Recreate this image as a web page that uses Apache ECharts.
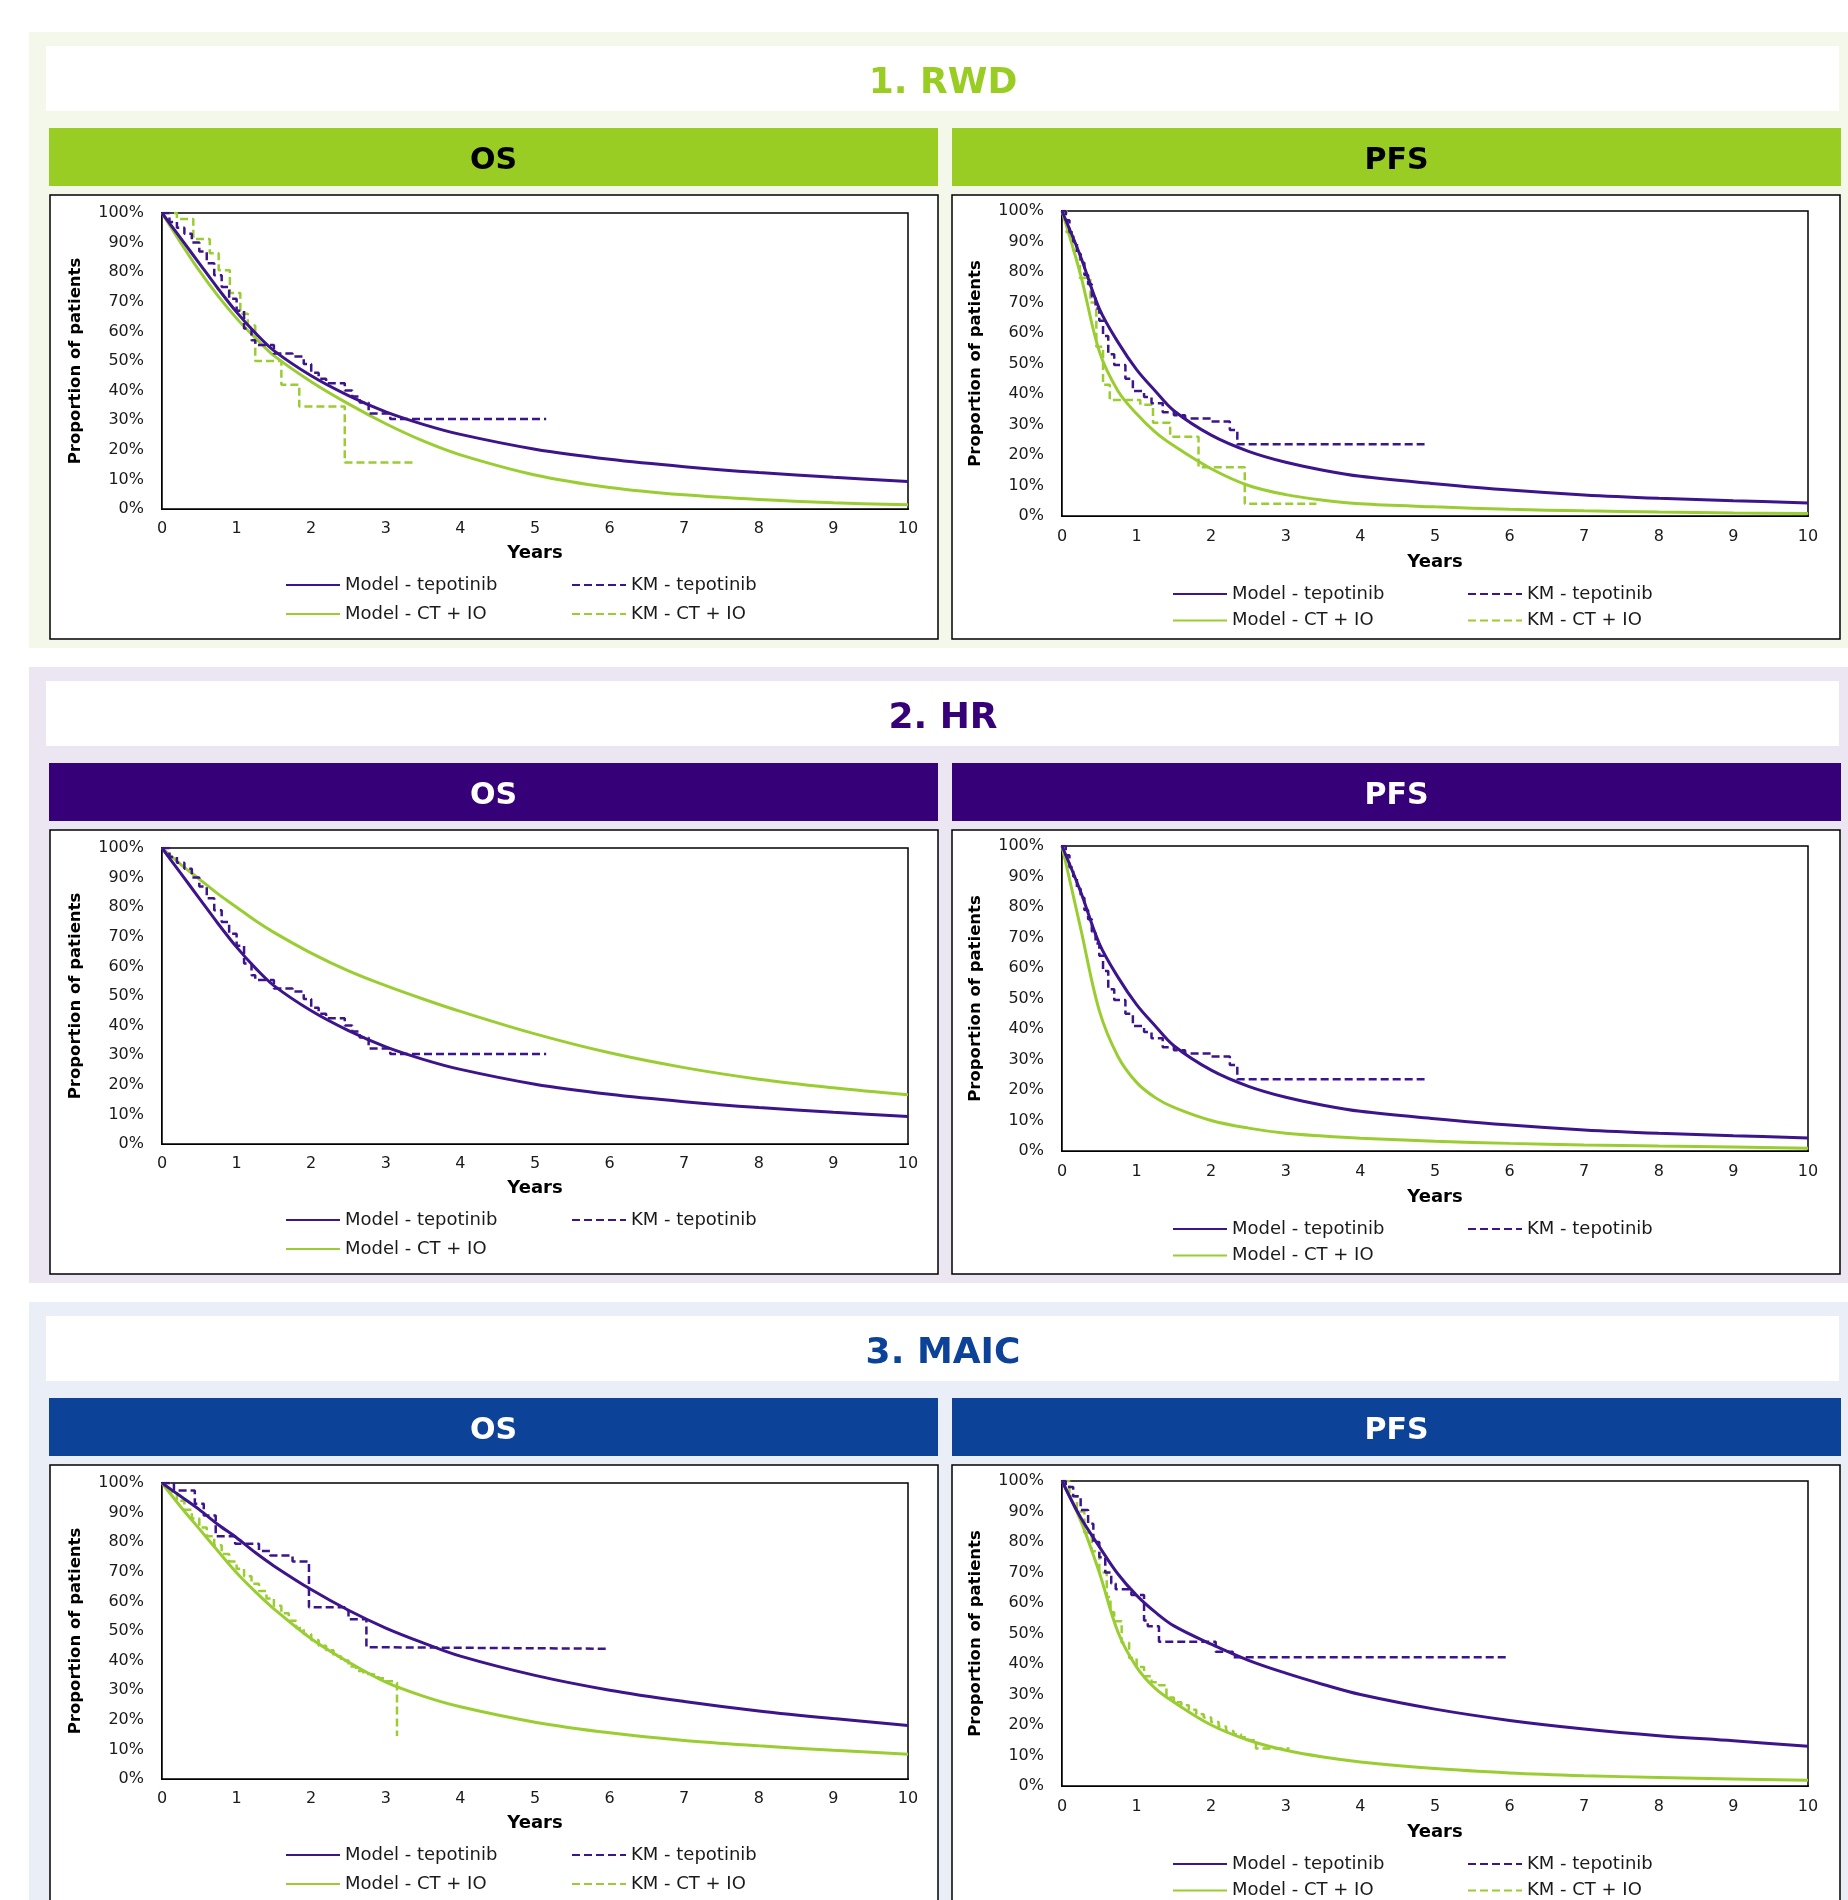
<!DOCTYPE html>
<html>
<head>
<meta charset="utf-8">
<script src="https://cdn.jsdelivr.net/npm/echarts@6/dist/echarts.min.js"></script>
<style>
html,body{margin:0;padding:0;background:#ffffff;}
#c{width:1848px;height:1900px;}
</style>
</head>
<body>
<div id="c"></div>
<script>
const FONT = '"DejaVu Sans", Verdana, sans-serif';
const PURPLE = '#3C148C';
const GREEN = '#9ACD32';

// ---------- tick labels / names ----------
const xTicks = [0,1,2,3,4,5,6,7,8,9,10];
const yTicks = [0,10,20,30,40,50,60,70,80,90,100];
const seriesNames = ['Model - tepotinib','KM - tepotinib','Model - CT + IO','KM - CT + IO'];

// ---------- model curves (years, % of patients) ----------
const modelT = [0,0.25,0.5,0.75,1,1.25,1.5,2,2.5,3,3.5,4,5,6,7,8,9,10];

const osModelTep      = [100,91.5,83,74.5,66.5,59.5,53.5,45,38.3,32.8,28.6,25.2,20.2,16.8,14.3,12.3,10.7,9.3];
const rwdOsModelCT    = [100,90,80.5,72,64.4,57.8,51.8,43,35.5,28.8,23,18.3,11.5,7.3,4.8,3.2,2.1,1.4];
const hrOsModelCT     = [100,94.5,89.5,84.5,80,75.5,71.5,64.5,58.5,53.5,49,44.8,37.2,30.8,25.8,21.9,19,16.6];
const maicOsModelTep  = [100,95.5,91,86,81.5,76.5,72,64,57,51,46,41.5,35,30,26.2,23,20.4,18.1];
const maicOsModelCT   = [100,92,84.5,77,69.7,63.3,57.5,47.4,39.5,32.7,28,24.4,19.2,15.6,13,11.2,9.7,8.4];

const pfsModelTep     = [100,85,68,57,48,41,34.5,26.5,21.2,17.6,15,13,10.6,8.5,6.9,5.8,5,4.3];
const rwdPfsModelCT   = [100,79,54,41,33.5,27.5,23,15.5,10,7,5.2,4,3,2.2,1.7,1.3,1.0,0.8];
const hrPfsModelCT    = [100,73,46,31,22.5,17.5,14.3,10,7.5,5.8,4.9,4.2,3.2,2.5,2,1.6,1.3,0.9];
const maicPfsModelTep = [100,88,78.5,69.5,62.5,57,52.5,46.5,41.2,37,33.3,30,25.2,21.5,18.7,16.5,14.8,13];
const maicPfsModelCT  = [100,87,70,50.5,39,32,27.5,20,15,11.7,9.5,7.9,5.7,4.3,3.4,2.8,2.3,1.9];

// ---------- Kaplan-Meier step data ----------
const kmOsTepT = [0,0.1,0.2,0.3,0.4,0.5,0.6,0.7,0.8,0.9,1.0,1.1,1.2,1.25,1.5,1.75,1.9,2.0,2.1,2.2,2.45,2.55,2.65,2.77,3.06,5.15];
const kmOsTepS = [100,97,95,93,90,87,83,79,75,71,67,61,57,55.4,52.5,51.5,49,46,44,42.5,40,38,36,32.3,30.4,30.4];

const rwdKmOsCtT = [0,0.2,0.42,0.64,0.76,0.91,1.05,1.15,1.25,1.6,1.84,2.45,3.37];
const rwdKmOsCtS = [100,98,91.2,86.4,80.7,73,66,62,50,42,34.6,15.7,15.7];

const kmPfsTepT = [0,0.05,0.1,0.15,0.2,0.25,0.3,0.35,0.4,0.45,0.5,0.55,0.62,0.7,0.85,0.95,1.1,1.2,1.35,1.5,1.65,2.0,2.25,2.35,4.86];
const kmPfsTepS = [100,97,93,90,86,83,79,76,72,68,64,59,53,49.5,45,41,39,37,34,33,32,31,28.2,23.5,23.5];

const rwdKmPfsCtT = [0,0.06,0.15,0.24,0.38,0.46,0.55,0.64,1.05,1.22,1.45,1.83,2.45,3.41];
const rwdKmPfsCtS = [100,93,87,78,70,55.5,43,38,36.5,30.6,26,16,4,4];

const maicKmOsTepT = [0,0.16,0.44,0.56,0.72,0.98,1.3,1.45,1.75,1.97,2.45,2.5,2.74,3.0,6.0];
const maicKmOsTepS = [100,97.5,93,89,82,79.5,77,75.5,73.5,58,57,54,44.5,44,44];

const maicKmOsCtT = [0,0.1,0.2,0.3,0.4,0.5,0.6,0.7,0.8,0.9,1.0,1.1,1.2,1.3,1.4,1.5,1.6,1.7,1.8,1.9,2.0,2.1,2.2,2.3,2.4,2.5,2.6,2.7,2.8,2.9,3.0,3.12,3.15];
const maicKmOsCtS = [100,97,94,91,88,85,82,79,76,73.5,71,68.5,66,63.5,61,58.5,56,53.5,51,49,47,45,43.5,41.5,40,38,36.5,35.5,35,34,33,32.5,14.5];

const maicKmPfsTepT = [0,0.05,0.15,0.25,0.35,0.42,0.5,0.58,0.66,0.72,0.93,1.1,1.15,1.3,2.06,2.29,5.97];
const maicKmPfsTepS = [100,98,95,90.5,86,80,75,70,66.4,64.5,62.6,54.3,52.4,47.3,44,42.2,42.2];

const maicKmPfsCtT = [0,0.1,0.2,0.3,0.4,0.5,0.6,0.65,0.7,0.8,0.9,1.0,1.1,1.2,1.3,1.4,1.5,1.6,1.7,1.8,1.9,2.0,2.1,2.2,2.3,2.4,2.5,2.6,3.05];
const maicKmPfsCtS = [100,95,90,83,77,70,62,57,54,47,42,39,36,34,33,29,27.5,26.5,25,23.5,22.5,21,19.5,18,17,16,15,12.3,12.3];

// ---------- panels ----------
const panels = [
  { title:'1. RWD', accent:'#9ACD23', headText:'#000000', bg:'#F4F8EA', top:32,
    os:  { modelTep:osModelTep, modelCT:rwdOsModelCT, kmTep:[kmOsTepT,kmOsTepS], kmCT:[rwdKmOsCtT,rwdKmOsCtS] },
    pfs: { modelTep:pfsModelTep, modelCT:rwdPfsModelCT, kmTep:[kmPfsTepT,kmPfsTepS], kmCT:[rwdKmPfsCtT,rwdKmPfsCtS] } },
  { title:'2. HR', accent:'#360079', headText:'#ffffff', bg:'#EBE6F2', top:667,
    os:  { modelTep:osModelTep, modelCT:hrOsModelCT, kmTep:[kmOsTepT,kmOsTepS], kmCT:null },
    pfs: { modelTep:pfsModelTep, modelCT:hrPfsModelCT, kmTep:[kmPfsTepT,kmPfsTepS], kmCT:null } },
  { title:'3. MAIC', accent:'#0D4299', headText:'#ffffff', bg:'#EAEEF7', top:1302,
    os:  { modelTep:maicOsModelTep, modelCT:maicOsModelCT, kmTep:[maicKmOsTepT,maicKmOsTepS], kmCT:[maicKmOsCtT,maicKmOsCtS] },
    pfs: { modelTep:maicPfsModelTep, modelCT:maicPfsModelCT, kmTep:[maicKmPfsTepT,maicKmPfsTepS], kmCT:[maicKmPfsCtT,maicKmPfsCtS] } }
];

function pairs(T, S){ return T.map((t,i)=>[t,S[i]]); }

const grids=[], xAxes=[], yAxes=[], series=[], legends=[], elements=[];

const layout = {
  os:  { boxX:50,  headX:49,  gridLeft:162,  gridTop:181, gridH:296, nameGapX:35, labelMarginX:12, legL:285,  legR:571,  legTop:544, legGap:11, headLabel:'OS' },
  pfs: { boxX:952, headX:952, gridLeft:1062, gridTop:179, gridH:305, nameGapX:37, labelMarginX:13, legL:1172, legR:1467, legTop:553, legGap:8.5, headLabel:'PFS' }
};

panels.forEach((p) => {
  const pt = p.top;
  elements.push({ type:'rect', z:-10, shape:{x:29,y:pt,width:1819,height:616}, style:{fill:p.bg} });
  elements.push({ type:'rect', z:-9, shape:{x:46,y:pt+14,width:1793,height:65}, style:{fill:'#ffffff'} });
  elements.push({ type:'text', z:-8, style:{ text:p.title, x:943, y:pt+52, textAlign:'center', textVerticalAlign:'middle', font:'bold 36px ' + FONT, fill:p.accent } });

  ['os','pfs'].forEach((k) => {
    const L = layout[k];
    const d = p[k];
    elements.push({ type:'rect', z:-9, shape:{x:L.headX,y:pt+96,width:889,height:58}, style:{fill:p.accent} });
    elements.push({ type:'text', z:-8, style:{ text:L.headLabel, x:L.headX+444.5, y:pt+129, textAlign:'center', textVerticalAlign:'middle', font:'bold 30px ' + FONT, fill:p.headText } });
    elements.push({ type:'rect', z:-9, shape:{x:L.boxX,y:pt+163,width:888,height:444}, style:{fill:'#ffffff', stroke:'#000000', lineWidth:1.5} });

    const g = grids.length;
    grids.push({ left:L.gridLeft, top:pt+L.gridTop, width:746, height:L.gridH, show:true, borderColor:'#000000', borderWidth:1.5, backgroundColor:'#ffffff', z:1 });
    xAxes.push({
      gridIndex:g, type:'value', min:xTicks[0], max:xTicks[xTicks.length-1], interval:1,
      name:'Years', nameLocation:'middle', nameGap:L.nameGapX,
      nameTextStyle:{ fontFamily:FONT, fontWeight:'bold', fontSize:18, color:'#000000' },
      axisLine:{ show:true, onZero:false, lineStyle:{ color:'#000000', width:2 } },
      axisTick:{ show:false }, splitLine:{ show:false },
      axisLabel:{ fontFamily:FONT, fontSize:16, color:'#1a1a1a', margin:L.labelMarginX }
    });
    yAxes.push({
      gridIndex:g, type:'value', min:yTicks[0], max:yTicks[yTicks.length-1], interval:10,
      name:'Proportion of patients', nameLocation:'middle', nameGap:78, nameRotate:90,
      nameTextStyle:{ fontFamily:FONT, fontWeight:'bold', fontSize:16.5, color:'#000000' },
      axisLine:{ show:true, onZero:false, lineStyle:{ color:'#000000', width:2 } },
      axisTick:{ show:false }, splitLine:{ show:false },
      axisLabel:{ fontFamily:FONT, fontSize:16, color:'#1a1a1a', margin:18, formatter:'{value}%' }
    });

    const base = { type:'line', xAxisIndex:g, yAxisIndex:g, symbol:'none', showSymbol:false, silent:true, animation:false };
    series.push(Object.assign({}, base, { name:seriesNames[2], data:pairs(modelT, d.modelCT), smooth:0.35, z:3,
      lineStyle:{ color:GREEN, width:3 }, itemStyle:{ color:GREEN } }));
    if (d.kmCT) {
      series.push(Object.assign({}, base, { name:seriesNames[3], data:pairs(d.kmCT[0], d.kmCT[1]), step:'end', z:4,
        lineStyle:{ color:GREEN, width:2.5, type:[8,4] }, itemStyle:{ color:GREEN } }));
    }
    series.push(Object.assign({}, base, { name:seriesNames[0], data:pairs(modelT, d.modelTep), smooth:0.35, z:5,
      lineStyle:{ color:PURPLE, width:3 }, itemStyle:{ color:PURPLE } }));
    series.push(Object.assign({}, base, { name:seriesNames[1], data:pairs(d.kmTep[0], d.kmTep[1]), step:'end', z:6,
      lineStyle:{ color:PURPLE, width:2.5, type:[8,4] }, itemStyle:{ color:PURPLE } }));

    const legBase = { orient:'vertical', itemWidth:54, itemHeight:14, itemGap:L.legGap, selectedMode:false,
      itemStyle:{ color:'rgba(0,0,0,0)', borderColor:'rgba(0,0,0,0)', borderWidth:0, opacity:0 },
      textStyle:{ fontFamily:FONT, fontSize:18, color:'#1a1a1a' }, padding:0 };
    legends.push(Object.assign({}, legBase, { left:L.legL, top:pt+L.legTop, data:[seriesNames[0], seriesNames[2]] }));
    legends.push(Object.assign({}, legBase, { left:L.legR, top:pt+L.legTop, data: d.kmCT ? [seriesNames[1], seriesNames[3]] : [seriesNames[1]] }));
  });
});

const chart = echarts.init(document.getElementById('c'), null, { renderer:'canvas', width:1848, height:1900 });
chart.setOption({
  animation:false,
  backgroundColor:'#ffffff',
  graphic:{ elements:elements },
  grid:grids, xAxis:xAxes, yAxis:yAxes, legend:legends, series:series
});
</script>
</body>
</html>
